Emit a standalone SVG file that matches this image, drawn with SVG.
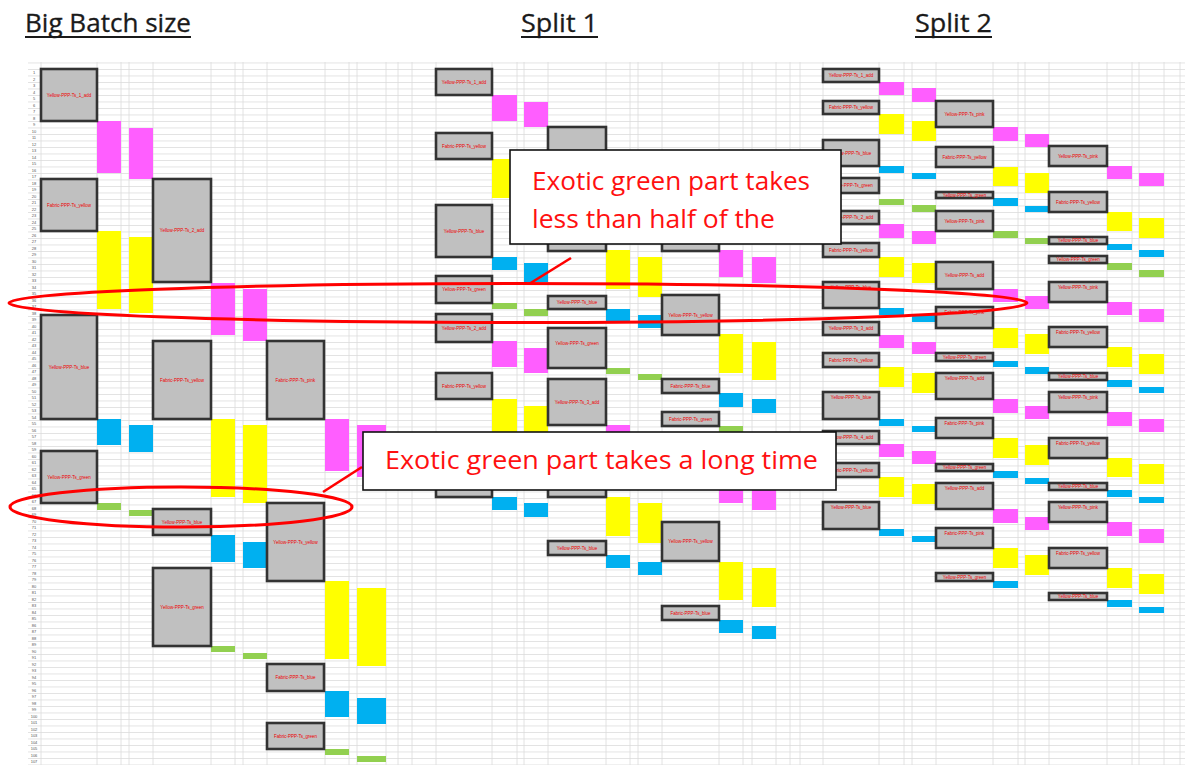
<svg xmlns="http://www.w3.org/2000/svg" width="1187" height="765" viewBox="0 0 1187 765">
<defs>
<pattern id="rows" x="0" y="69" width="20" height="6.5" patternUnits="userSpaceOnUse"><rect x="0" y="0" width="20" height="0.7" fill="#d9d9d9"/></pattern>
<style>
.t{font-family:"Open Sans","Liberation Sans",sans-serif;font-size:25px;fill:#1a1a1a;stroke:#1a1a1a;stroke-width:0.3}
.u{stroke:#1a1a1a;stroke-width:1.8}
.vl{stroke:#dadada;stroke-width:0.8}
.g{fill:#c0c0c0;stroke:#333333;stroke-width:2.6}
.p{fill:#ff5eff}
.y{fill:#ffff00}
.b{fill:#00b0f0}
.n{fill:#92d050}
.lb{font-family:"Liberation Sans",sans-serif;font-size:4.5px;fill:#ee0000;text-anchor:middle}
.rn{font-family:"Liberation Sans",sans-serif;font-size:4px;fill:#555;text-anchor:middle}
.ell{fill:none;stroke:#ff0000;stroke-width:3}
.co{fill:#ffffff;stroke:#111;stroke-width:1.6}
.ct{font-family:"Open Sans","Liberation Sans",sans-serif;font-size:26px;fill:#ff1010}
.ptr{stroke:#ff0000;stroke-width:2.6}
</style>
</defs>
<rect width="1187" height="765" fill="#ffffff"/>

<!-- titles -->
<g id="titles">
<text class="t" x="25" y="32" textLength="166" lengthAdjust="spacingAndGlyphs">Big Batch size</text>
<line class="u" x1="25" y1="37" x2="191" y2="37"/>
<text class="t" x="521" y="32" textLength="77" lengthAdjust="spacingAndGlyphs">Split 1</text>
<line class="u" x1="521" y1="37" x2="598" y2="37"/>
<text class="t" x="915" y="32" textLength="77" lengthAdjust="spacingAndGlyphs">Split 2</text>
<line class="u" x1="915" y1="37" x2="992" y2="37"/>
</g>

<!-- spreadsheet grid -->
<g id="grid">
<rect x="28" y="62" width="1157" height="703" fill="url(#rows)"/>
<path class="vl" d="M41 62V765M97 62V765M121 62V765M129 62V765M153 62V765M211 62V765M235 62V765M243 62V765M267 62V765M325 62V765M349 62V765M357 62V765M386 62V765M398 62V765
M412 62V765M436 62V765M492 62V765M517 62V765M524 62V765M548 62V765M606 62V765M630 62V765M638 62V765M662 62V765M719 62V765M743 62V765M752 62V765M776 62V765M790 62V765
M800 62V765M823 62V765M879 62V765M904 62V765M912 62V765M936 62V765M993 62V765M1018 62V765M1025 62V765M1049 62V765M1107 62V765M1132 62V765M1139 62V765M1164 62V765M1180 62V765"/>
<text class="rn"><tspan x="34" y="74">1</tspan><tspan x="34" dy="6.5">2</tspan><tspan x="34" dy="6.5">3</tspan><tspan x="34" dy="6.5">4</tspan><tspan x="34" dy="6.5">5</tspan><tspan x="34" dy="6.5">6</tspan><tspan x="34" dy="6.5">7</tspan><tspan x="34" dy="6.5">8</tspan><tspan x="34" dy="6.5">9</tspan><tspan x="34" dy="6.5">10</tspan><tspan x="34" dy="6.5">11</tspan><tspan x="34" dy="6.5">12</tspan><tspan x="34" dy="6.5">13</tspan><tspan x="34" dy="6.5">14</tspan><tspan x="34" dy="6.5">15</tspan><tspan x="34" dy="6.5">16</tspan><tspan x="34" dy="6.5">17</tspan><tspan x="34" dy="6.5">18</tspan><tspan x="34" dy="6.5">19</tspan><tspan x="34" dy="6.5">20</tspan><tspan x="34" dy="6.5">21</tspan><tspan x="34" dy="6.5">22</tspan><tspan x="34" dy="6.5">23</tspan><tspan x="34" dy="6.5">24</tspan><tspan x="34" dy="6.5">25</tspan><tspan x="34" dy="6.5">26</tspan><tspan x="34" dy="6.5">27</tspan><tspan x="34" dy="6.5">28</tspan><tspan x="34" dy="6.5">29</tspan><tspan x="34" dy="6.5">30</tspan><tspan x="34" dy="6.5">31</tspan><tspan x="34" dy="6.5">32</tspan><tspan x="34" dy="6.5">33</tspan><tspan x="34" dy="6.5">34</tspan><tspan x="34" dy="6.5">35</tspan><tspan x="34" dy="6.5">36</tspan><tspan x="34" dy="6.5">37</tspan><tspan x="34" dy="6.5">38</tspan><tspan x="34" dy="6.5">39</tspan><tspan x="34" dy="6.5">40</tspan><tspan x="34" dy="6.5">41</tspan><tspan x="34" dy="6.5">42</tspan><tspan x="34" dy="6.5">43</tspan><tspan x="34" dy="6.5">44</tspan><tspan x="34" dy="6.5">45</tspan><tspan x="34" dy="6.5">46</tspan><tspan x="34" dy="6.5">47</tspan><tspan x="34" dy="6.5">48</tspan><tspan x="34" dy="6.5">49</tspan><tspan x="34" dy="6.5">50</tspan><tspan x="34" dy="6.5">51</tspan><tspan x="34" dy="6.5">52</tspan><tspan x="34" dy="6.5">53</tspan><tspan x="34" dy="6.5">54</tspan><tspan x="34" dy="6.5">55</tspan><tspan x="34" dy="6.5">56</tspan><tspan x="34" dy="6.5">57</tspan><tspan x="34" dy="6.5">58</tspan><tspan x="34" dy="6.5">59</tspan><tspan x="34" dy="6.5">60</tspan><tspan x="34" dy="6.5">61</tspan><tspan x="34" dy="6.5">62</tspan><tspan x="34" dy="6.5">63</tspan><tspan x="34" dy="6.5">64</tspan><tspan x="34" dy="6.5">65</tspan><tspan x="34" dy="6.5">66</tspan><tspan x="34" dy="6.5">67</tspan><tspan x="34" dy="6.5">68</tspan><tspan x="34" dy="6.5">69</tspan><tspan x="34" dy="6.5">70</tspan><tspan x="34" dy="6.5">71</tspan><tspan x="34" dy="6.5">72</tspan><tspan x="34" dy="6.5">73</tspan><tspan x="34" dy="6.5">74</tspan><tspan x="34" dy="6.5">75</tspan><tspan x="34" dy="6.5">76</tspan><tspan x="34" dy="6.5">77</tspan><tspan x="34" dy="6.5">78</tspan><tspan x="34" dy="6.5">79</tspan><tspan x="34" dy="6.5">80</tspan><tspan x="34" dy="6.5">81</tspan><tspan x="34" dy="6.5">82</tspan><tspan x="34" dy="6.5">83</tspan><tspan x="34" dy="6.5">84</tspan><tspan x="34" dy="6.5">85</tspan><tspan x="34" dy="6.5">86</tspan><tspan x="34" dy="6.5">87</tspan><tspan x="34" dy="6.5">88</tspan><tspan x="34" dy="6.5">89</tspan><tspan x="34" dy="6.5">90</tspan><tspan x="34" dy="6.5">91</tspan><tspan x="34" dy="6.5">92</tspan><tspan x="34" dy="6.5">93</tspan><tspan x="34" dy="6.5">94</tspan><tspan x="34" dy="6.5">95</tspan><tspan x="34" dy="6.5">96</tspan><tspan x="34" dy="6.5">97</tspan><tspan x="34" dy="6.5">98</tspan><tspan x="34" dy="6.5">99</tspan><tspan x="34" dy="6.5">100</tspan><tspan x="34" dy="6.5">101</tspan><tspan x="34" dy="6.5">102</tspan><tspan x="34" dy="6.5">103</tspan><tspan x="34" dy="6.5">104</tspan><tspan x="34" dy="6.5">105</tspan><tspan x="34" dy="6.5">106</tspan><tspan x="34" dy="6.5">107</tspan></text>
</g>

<!-- Big batch panel -->
<g id="big-batch">
<g id="bb-cells">
<rect class="p" x="97" y="121" width="24" height="52"/><rect class="p" x="129" y="128" width="24" height="51"/>
<rect class="y" x="97" y="231" width="24" height="78"/><rect class="y" x="129" y="237" width="24" height="76"/>
<rect class="p" x="211" y="283" width="24" height="52"/><rect class="p" x="243" y="289" width="24" height="52"/>
<rect class="b" x="97" y="419" width="24" height="26"/><rect class="b" x="129" y="425" width="24" height="27"/>
<rect class="y" x="211" y="419" width="24" height="78"/><rect class="y" x="243" y="425" width="24" height="78"/>
<rect class="p" x="325" y="419" width="24" height="52"/><rect class="p" x="357" y="425" width="29" height="52"/>
<rect class="n" x="97" y="503" width="24" height="7"/><rect class="n" x="129" y="510" width="24" height="6"/>
<rect class="b" x="211" y="535" width="24" height="27"/><rect class="b" x="243" y="542" width="24" height="26"/>
<rect class="y" x="325" y="581" width="24" height="78"/><rect class="y" x="357" y="588" width="29" height="78"/>
<rect class="n" x="211" y="646" width="24" height="6"/><rect class="n" x="243" y="653" width="24" height="6"/>
<rect class="b" x="325" y="691" width="24" height="26"/><rect class="b" x="357" y="698" width="29" height="26"/>
<rect class="n" x="325" y="749" width="24" height="6"/><rect class="n" x="357" y="756" width="29" height="6"/>
</g>
<g id="bb-boxes">
<rect class="g" x="41" y="69" width="56" height="52"/><text class="lb" x="69" y="97">Yellow-PPP-Ts_1_add</text>
<rect class="g" x="41" y="179" width="56" height="52"/><text class="lb" x="69" y="207">Fabric-PPP-Ts_yellow</text>
<rect class="g" x="153" y="179" width="58" height="103"/><text class="lb" x="182" y="232">Yellow-PPP-Ts_2_add</text>
<rect class="g" x="41" y="315" width="56" height="104"/><text class="lb" x="69" y="369">Yellow-PPP-Ts_blue</text>
<rect class="g" x="153" y="341" width="58" height="78"/><text class="lb" x="182" y="382">Fabric-PPP-Ts_yellow</text>
<rect class="g" x="267" y="341" width="57" height="78"/><text class="lb" x="295.5" y="382">Fabric-PPP-Ts_pink</text>
<rect class="g" x="41" y="451" width="56" height="52"/><text class="lb" x="69" y="479">Yellow-PPP-Ts_green</text>
<rect class="g" x="153" y="509" width="58" height="26"/><text class="lb" x="182" y="524">Yellow-PPP-Ts_blue</text>
<rect class="g" x="267" y="503" width="57" height="78"/><text class="lb" x="295.5" y="544">Yellow-PPP-Ts_yellow</text>
<rect class="g" x="153" y="568" width="58" height="78"/><text class="lb" x="182" y="609">Yellow-PPP-Ts_green</text>
<rect class="g" x="267" y="664" width="57" height="27"/><text class="lb" x="295.5" y="679">Fabric-PPP-Ts_blue</text>
<rect class="g" x="267" y="723" width="57" height="26"/><text class="lb" x="295.5" y="738">Fabric-PPP-Ts_green</text>
</g>
</g>

<!-- Split 1 panel -->
<g id="split-1">
<g id="s1-cells">
<rect class="p" x="492" y="95" width="25" height="26"/><rect class="p" x="524" y="102" width="24" height="25"/>
<rect class="y" x="492" y="159" width="25" height="39"/><rect class="y" x="524" y="166" width="24" height="39"/>
<rect class="b" x="492" y="257" width="25" height="13"/><rect class="b" x="524" y="263" width="24" height="19"/>
<rect class="y" x="606" y="250" width="24" height="39"/><rect class="y" x="638" y="257" width="24" height="40"/>
<rect class="p" x="719" y="250" width="24" height="27"/><rect class="p" x="752" y="257" width="24" height="26"/>
<rect class="n" x="492" y="303" width="25" height="6"/><rect class="n" x="524" y="309" width="24" height="7"/>
<rect class="b" x="606" y="309" width="24" height="12"/><rect class="b" x="638" y="315" width="24" height="13"/>
<rect class="p" x="492" y="341" width="25" height="26"/><rect class="p" x="524" y="348" width="24" height="25"/>
<rect class="n" x="606" y="368" width="24" height="6"/><rect class="n" x="638" y="374" width="24" height="6"/>
<rect class="y" x="719" y="334" width="24" height="39"/><rect class="y" x="752" y="342" width="24" height="38"/>
<rect class="b" x="719" y="393" width="24" height="14"/><rect class="b" x="752" y="399" width="24" height="14"/>
<rect class="y" x="492" y="399" width="25" height="33"/><rect class="y" x="524" y="406" width="24" height="26"/>
<rect class="p" x="606" y="425" width="24" height="7"/>
<rect class="n" x="719" y="426" width="24" height="6"/>
<rect class="b" x="492" y="497" width="25" height="13"/><rect class="b" x="524" y="503" width="24" height="14"/>
<rect class="y" x="606" y="497" width="24" height="39"/><rect class="y" x="638" y="503" width="24" height="40"/>
<rect class="p" x="719" y="485" width="24" height="18"/><rect class="p" x="752" y="485" width="24" height="25"/>
<rect class="b" x="606" y="555" width="24" height="13"/><rect class="b" x="638" y="562" width="24" height="13"/>
<rect class="y" x="719" y="562" width="24" height="38"/><rect class="y" x="752" y="568" width="24" height="39"/>
<rect class="b" x="719" y="620" width="24" height="13"/><rect class="b" x="752" y="626" width="24" height="13"/>
</g>
<g id="s1-boxes">
<rect class="g" x="436" y="69" width="56" height="26"/><text class="lb" x="464" y="84">Yellow-PPP-Ts_1_add</text>
<rect class="g" x="436" y="133" width="56" height="26"/><text class="lb" x="464" y="148">Fabric-PPP-Ts_yellow</text>
<rect class="g" x="436" y="205" width="56" height="52"/><text class="lb" x="464" y="233">Yellow-PPP-Ts_blue</text>
<rect class="g" x="436" y="276" width="56" height="27"/><text class="lb" x="464" y="291">Yellow-PPP-Ts_green</text>
<rect class="g" x="436" y="314" width="56" height="28"/><text class="lb" x="464" y="330">Yellow-PPP-Ts_2_add</text>
<rect class="g" x="436" y="373" width="56" height="26"/><text class="lb" x="464" y="388">Fabric-PPP-Ts_yellow</text>
<rect class="g" x="436" y="465" width="56" height="32"/>
<rect class="g" x="548" y="127" width="58" height="124"/>
<rect class="g" x="548" y="296" width="58" height="13"/><text class="lb" x="577" y="304">Yellow-PPP-Ts_blue</text>
<rect class="g" x="548" y="328" width="58" height="40"/><text class="lb" x="577" y="345">Yellow-PPP-Ts_green</text>
<rect class="g" x="548" y="379" width="58" height="46"/><text class="lb" x="577" y="404">Yellow-PPP-Ts_3_add</text>
<rect class="g" x="548" y="460" width="58" height="37"/>
<rect class="g" x="548" y="541" width="58" height="14"/><text class="lb" x="577" y="550">Yellow-PPP-Ts_blue</text>
<rect class="g" x="662" y="200" width="57" height="51"/>
<rect class="g" x="662" y="295" width="57" height="40"/><text class="lb" x="690.5" y="317">Yellow-PPP-Ts_yellow</text>
<rect class="g" x="662" y="379" width="57" height="14"/><text class="lb" x="690.5" y="388">Fabric-PPP-Ts_blue</text>
<rect class="g" x="662" y="412" width="57" height="14"/><text class="lb" x="690.5" y="421">Fabric-PPP-Ts_green</text>
<rect class="g" x="662" y="522" width="57" height="39"/><text class="lb" x="690.5" y="543">Yellow-PPP-Ts_yellow</text>
<rect class="g" x="662" y="606" width="57" height="14"/><text class="lb" x="690.5" y="615">Fabric-PPP-Ts_blue</text>
</g>
</g>

<!-- Split 2 panel -->
<g id="split-2">
<g id="s2-cells">
<rect class="p" x="879" y="82" width="25" height="13"/><rect class="p" x="912" y="88" width="24" height="14"/>
<rect class="y" x="879" y="114" width="25" height="20"/><rect class="y" x="912" y="121" width="24" height="20"/>
<rect class="b" x="879" y="166" width="25" height="7"/><rect class="b" x="912" y="173" width="24" height="6"/>
<rect class="n" x="879" y="199" width="25" height="6"/><rect class="n" x="912" y="205" width="24" height="7"/>
<rect class="p" x="879" y="224" width="25" height="14"/><rect class="p" x="912" y="231" width="24" height="13"/>
<rect class="y" x="879" y="257" width="25" height="20"/><rect class="y" x="912" y="263" width="24" height="20"/>
<rect class="b" x="879" y="308" width="25" height="7"/><rect class="b" x="912" y="315" width="24" height="7"/>
<rect class="p" x="879" y="335" width="25" height="13"/><rect class="p" x="912" y="342" width="24" height="12"/>
<rect class="y" x="879" y="367" width="25" height="20"/><rect class="y" x="912" y="373" width="24" height="20"/>
<rect class="b" x="879" y="419" width="25" height="7"/><rect class="b" x="912" y="426" width="24" height="6"/>
<rect class="p" x="879" y="444" width="25" height="13"/><rect class="p" x="912" y="451" width="24" height="13"/>
<rect class="y" x="879" y="477" width="25" height="20"/><rect class="y" x="912" y="484" width="24" height="20"/>
<rect class="b" x="879" y="529" width="25" height="7"/><rect class="b" x="912" y="536" width="24" height="6"/>

<rect class="p" x="993" y="127" width="25" height="14"/><rect class="p" x="1025" y="134" width="24" height="13"/>
<rect class="y" x="993" y="167" width="25" height="19"/><rect class="y" x="1025" y="173" width="24" height="20"/>
<rect class="b" x="993" y="198" width="25" height="8"/><rect class="b" x="1025" y="206" width="24" height="6"/>
<rect class="n" x="993" y="231" width="25" height="7"/><rect class="n" x="1025" y="238" width="24" height="6"/>
<rect class="p" x="993" y="289" width="25" height="13"/><rect class="p" x="1025" y="296" width="24" height="13"/>
<rect class="y" x="993" y="328" width="25" height="20"/><rect class="y" x="1025" y="334" width="24" height="20"/>
<rect class="b" x="993" y="361" width="25" height="6"/><rect class="b" x="1025" y="367" width="24" height="7"/>
<rect class="p" x="993" y="399" width="25" height="14"/><rect class="p" x="1025" y="406" width="24" height="13"/>
<rect class="y" x="993" y="438" width="25" height="20"/><rect class="y" x="1025" y="445" width="24" height="20"/>
<rect class="b" x="993" y="471" width="25" height="7"/><rect class="b" x="1025" y="478" width="24" height="6"/>
<rect class="p" x="993" y="509" width="25" height="14"/><rect class="p" x="1025" y="517" width="24" height="13"/>
<rect class="y" x="993" y="548" width="25" height="20"/><rect class="y" x="1025" y="555" width="24" height="20"/>
<rect class="b" x="993" y="581" width="25" height="7"/>

<rect class="p" x="1107" y="166" width="25" height="13"/><rect class="p" x="1139" y="173" width="25" height="13"/>
<rect class="y" x="1107" y="212" width="25" height="19"/><rect class="y" x="1139" y="218" width="25" height="20"/>
<rect class="b" x="1107" y="244" width="25" height="6"/><rect class="b" x="1139" y="250" width="25" height="7"/>
<rect class="n" x="1107" y="263" width="25" height="7"/><rect class="n" x="1139" y="270" width="25" height="7"/>
<rect class="p" x="1107" y="302" width="25" height="13"/><rect class="p" x="1139" y="309" width="25" height="13"/>
<rect class="y" x="1107" y="347" width="25" height="20"/><rect class="y" x="1139" y="354" width="25" height="20"/>
<rect class="b" x="1107" y="380" width="25" height="7"/><rect class="b" x="1139" y="387" width="25" height="6"/>
<rect class="p" x="1107" y="412" width="25" height="14"/><rect class="p" x="1139" y="419" width="25" height="13"/>
<rect class="y" x="1107" y="458" width="25" height="19"/><rect class="y" x="1139" y="464" width="25" height="20"/>
<rect class="b" x="1107" y="490" width="25" height="7"/><rect class="b" x="1139" y="497" width="25" height="6"/>
<rect class="p" x="1107" y="522" width="25" height="14"/><rect class="p" x="1139" y="529" width="25" height="14"/>
<rect class="y" x="1107" y="568" width="25" height="20"/><rect class="y" x="1139" y="574" width="25" height="20"/>
<rect class="b" x="1107" y="600" width="25" height="7"/><rect class="b" x="1139" y="607" width="25" height="6"/>
</g>
<g id="s2-boxes">
<rect class="g" x="823" y="69" width="56" height="13"/><text class="lb" x="851" y="77">Yellow-PPP-Ts_1_add</text>
<rect class="g" x="823" y="101" width="56" height="13"/><text class="lb" x="851" y="109">Fabric-PPP-Ts_yellow</text>
<rect class="g" x="823" y="140" width="56" height="26"/><text class="lb" x="851" y="155">Yellow-PPP-Ts_blue</text>
<rect class="g" x="823" y="178" width="56" height="15"/><text class="lb" x="851" y="187">Yellow-PPP-Ts_green</text>
<rect class="g" x="823" y="211" width="56" height="13"/><text class="lb" x="851" y="219">Yellow-PPP-Ts_2_add</text>
<rect class="g" x="823" y="243" width="56" height="14"/><text class="lb" x="851" y="252">Fabric-PPP-Ts_yellow</text>
<rect class="g" x="823" y="282" width="56" height="26"/><text class="lb" x="851" y="289">Yellow-PPP-Ts_blue</text>
<rect class="g" x="823" y="322" width="56" height="13"/><text class="lb" x="851" y="330">Yellow-PPP-Ts_3_add</text>
<rect class="g" x="823" y="353" width="56" height="14"/><text class="lb" x="851" y="362">Fabric-PPP-Ts_yellow</text>
<rect class="g" x="823" y="392" width="56" height="27"/><text class="lb" x="851" y="399">Yellow-PPP-Ts_blue</text>
<rect class="g" x="823" y="431" width="56" height="13"/><text class="lb" x="851" y="439">Yellow-PPP-Ts_4_add</text>
<rect class="g" x="823" y="463" width="56" height="14"/><text class="lb" x="851" y="472">Fabric-PPP-Ts_yellow</text>
<rect class="g" x="823" y="502" width="56" height="27"/><text class="lb" x="851" y="509">Yellow-PPP-Ts_blue</text>

<rect class="g" x="936" y="101" width="57" height="26"/><text class="lb" x="964.5" y="116">Yellow-PPP-Ts_pink</text>
<rect class="g" x="936" y="147" width="57" height="20"/><text class="lb" x="964.5" y="159">Fabric-PPP-Ts_yellow</text>
<rect class="g" x="936" y="192" width="57" height="6"/><text class="lb" x="964.5" y="197">Yellow-PPP-Ts_green</text>
<rect class="g" x="936" y="211" width="57" height="20"/><text class="lb" x="964.5" y="223">Yellow-PPP-Ts_pink</text>
<rect class="g" x="936" y="262" width="57" height="27"/><text class="lb" x="964.5" y="277">Yellow-PPP-Ts_add</text>
<rect class="g" x="936" y="307" width="57" height="21"/><text class="lb" x="964.5" y="314">Fabric-PPP-Ts_pink</text>
<rect class="g" x="936" y="353" width="57" height="8"/><text class="lb" x="964.5" y="359">Yellow-PPP-Ts_green</text>
<rect class="g" x="936" y="373" width="57" height="26"/><text class="lb" x="964.5" y="380">Yellow-PPP-Ts_add</text>
<rect class="g" x="936" y="418" width="57" height="20"/><text class="lb" x="964.5" y="425">Fabric-PPP-Ts_pink</text>
<rect class="g" x="936" y="464" width="57" height="7"/><text class="lb" x="964.5" y="469">Yellow-PPP-Ts_green</text>
<rect class="g" x="936" y="483" width="57" height="26"/><text class="lb" x="964.5" y="490">Yellow-PPP-Ts_add</text>
<rect class="g" x="936" y="528" width="57" height="20"/><text class="lb" x="964.5" y="535">Fabric-PPP-Ts_pink</text>
<rect class="g" x="936" y="573" width="57" height="8"/><text class="lb" x="964.5" y="579">Yellow-PPP-Ts_green</text>

<rect class="g" x="1049" y="146" width="58" height="20"/><text class="lb" x="1078" y="158">Yellow-PPP-Ts_pink</text>
<rect class="g" x="1049" y="192" width="58" height="20"/><text class="lb" x="1078" y="204">Fabric-PPP-Ts_yellow</text>
<rect class="g" x="1049" y="237" width="58" height="7"/><text class="lb" x="1078" y="242">Yellow-PPP-Ts_blue</text>
<rect class="g" x="1049" y="256" width="58" height="7"/><text class="lb" x="1078" y="261">Yellow-PPP-Ts_green</text>
<rect class="g" x="1049" y="282" width="58" height="20"/><text class="lb" x="1078" y="289">Yellow-PPP-Ts_pink</text>
<rect class="g" x="1049" y="327" width="58" height="20"/><text class="lb" x="1078" y="334">Fabric-PPP-Ts_yellow</text>
<rect class="g" x="1049" y="373" width="58" height="7"/><text class="lb" x="1078" y="378">Yellow-PPP-Ts_blue</text>
<rect class="g" x="1049" y="392" width="58" height="20"/><text class="lb" x="1078" y="399">Yellow-PPP-Ts_pink</text>
<rect class="g" x="1049" y="438" width="58" height="20"/><text class="lb" x="1078" y="445">Fabric-PPP-Ts_yellow</text>
<rect class="g" x="1049" y="483" width="58" height="7"/><text class="lb" x="1078" y="488">Yellow-PPP-Ts_blue</text>
<rect class="g" x="1049" y="502" width="58" height="20"/><text class="lb" x="1078" y="509">Yellow-PPP-Ts_pink</text>
<rect class="g" x="1049" y="548" width="58" height="20"/><text class="lb" x="1078" y="555">Fabric-PPP-Ts_yellow</text>
<rect class="g" x="1049" y="593" width="58" height="7"/><text class="lb" x="1078" y="598">Yellow-PPP-Ts_blue</text>
</g>
</g>

<!-- highlights -->
<g id="highlights">
<ellipse class="ell" cx="518" cy="303" rx="509" ry="19.5"/>
<ellipse class="ell" cx="181" cy="507" rx="171" ry="20"/>
<line class="ptr" x1="571" y1="258" x2="529" y2="284"/>
<line class="ptr" x1="323" y1="492" x2="362" y2="467"/>
</g>

<g id="callout-1">
<rect class="co" x="510" y="150" width="331" height="94"/>
<text class="ct" x="532" y="190" textLength="278" lengthAdjust="spacingAndGlyphs">Exotic green part takes</text>
<text class="ct" x="532" y="228" textLength="243" lengthAdjust="spacingAndGlyphs">less than half of the</text>
</g>
<g id="callout-2">
<rect class="co" x="363" y="432" width="473" height="58"/>
<text class="ct" x="385" y="469" textLength="433" lengthAdjust="spacingAndGlyphs">Exotic green part takes a long time</text>
</g>
</svg>
